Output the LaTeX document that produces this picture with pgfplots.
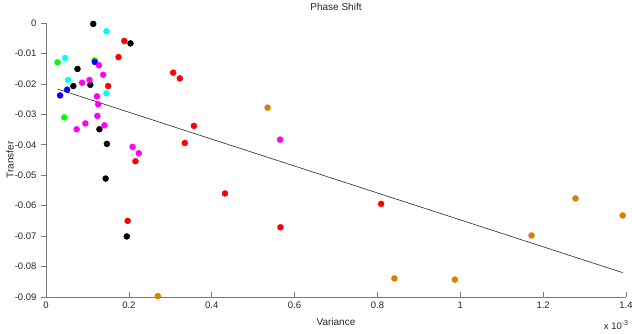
\documentclass[border=0pt]{standalone}
\usepackage{pgfplots}
\pgfplotsset{compat=1.18}
\usepackage{fontspec}
\setmainfont{Liberation Sans}
\definecolor{morange}{RGB}{222,125,0}
\definecolor{axgray}{RGB}{120,120,120}
\definecolor{mred}{RGB}{255,0,0}
\definecolor{mgreen}{RGB}{0,255,0}
\definecolor{mblue}{RGB}{0,0,255}
\definecolor{mcyan}{RGB}{0,255,255}
\definecolor{mmag}{RGB}{255,0,255}
\begin{document}
\begin{tikzpicture}[x=1pt,y=1pt]
\useasboundingbox (-46,-37) rectangle (586,297);
\begin{axis}[
  at={(0,0)}, anchor=south west,
  scale only axis, width=580pt, height=274pt,
  xmin=0, xmax=1.4, ymin=-0.09, ymax=0,
  axis x line*=bottom, axis y line*=left,
  axis line style={axgray, line width=0.7pt, -},
  scaled x ticks=false, scaled y ticks=false,
  xtick={0,0.2,0.4,0.6,0.8,1,1.2,1.4},
  xticklabels={0,0.2,0.4,0.6,0.8,1,1.2,1.4},
  ytick={-0.09,-0.08,-0.07,-0.06,-0.05,-0.04,-0.03,-0.02,-0.01,0},
  yticklabels={-0.09,-0.08,-0.07,-0.06,-0.05,-0.04,-0.03,-0.02,-0.01,0},
  xtick align=inside, ytick align=outside,
  major tick length=5pt,
  tick style={axgray, line width=0.6pt},
  tick label style={font=\fontsize{9.5}{11}\selectfont, text=black!85},
  xticklabel style={yshift=-1pt},
  yticklabel style={xshift=-1pt},
  clip=false,
  every axis plot/.append style={only marks, mark=*, mark size=3pt},
]
\addplot[mred, mark options={draw=mred, fill=mred}] coordinates {
(0.189,-0.0059) (0.175,-0.0112) (0.307,-0.0163) (0.323,-0.0182) (0.150,-0.0207)
(0.357,-0.0338) (0.335,-0.0394) (0.216,-0.0454) (0.432,-0.0560) (0.197,-0.0650)
(0.566,-0.0671) (0.809,-0.0594)};
\addplot[black, mark options={draw=black, fill=black}] coordinates {
(0.114,-0.0003) (0.204,-0.0067) (0.076,-0.0151) (0.066,-0.0207) (0.107,-0.0203)
(0.129,-0.0349) (0.147,-0.0397) (0.144,-0.0511) (0.195,-0.0701)};
\addplot[mgreen, mark options={draw=mgreen, fill=mgreen}] coordinates {
(0.028,-0.0129) (0.117,-0.0123) (0.044,-0.0310)};
\addplot[mblue, mark options={draw=mblue, fill=mblue}] coordinates {
(0.118,-0.0128) (0.051,-0.0219) (0.034,-0.0238)};
\addplot[mcyan, mark options={draw=mcyan, fill=mcyan}] coordinates {
(0.146,-0.0027) (0.046,-0.0115) (0.053,-0.0187) (0.146,-0.0231)};
\addplot[mmag, mark options={draw=mmag, fill=mmag}] coordinates {
(0.128,-0.0139) (0.138,-0.0170) (0.087,-0.0196) (0.105,-0.0187) (0.123,-0.0241)
(0.126,-0.0267) (0.124,-0.0305) (0.074,-0.0349) (0.095,-0.0330) (0.141,-0.0336)
(0.209,-0.0407) (0.224,-0.0428) (0.565,-0.0383)};
\addplot[morange, mark options={draw=morange, fill=morange}] coordinates {
(0.535,-0.0278) (0.270,-0.0897) (0.841,-0.0839) (0.987,-0.0843) (1.172,-0.0698)
(1.278,-0.0576) (1.392,-0.0632)};
\addplot[black!85, no markers, sharp plot, line width=0.6pt] coordinates {
(0.028,-0.0217) (1.392,-0.0820)};
\end{axis}
\node[font=\fontsize{10}{12}\selectfont, text=black!85] at (290,290) {Phase Shift};
\node[font=\fontsize{10}{12}\selectfont, text=black!85] at (290,-25) {Variance};
\node[font=\fontsize{10}{12}\selectfont, text=black!85, rotate=90] at (-36,137) {Transfer};
\node[font=\fontsize{9.5}{11}\selectfont, text=black!85] at (570,-28) {x 10\raisebox{4pt}{\fontsize{7}{8}\selectfont -3}};
\end{tikzpicture}
\end{document}
